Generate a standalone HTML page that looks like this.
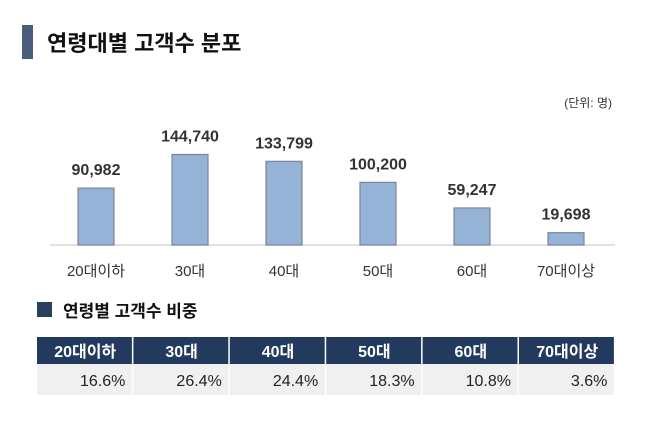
<!DOCTYPE html>
<html><head><meta charset="utf-8"><style>
body{margin:0;width:647px;height:425px;background:#fff;overflow:hidden;font-family:"Liberation Sans","Noto Sans CJK KR",sans-serif;}
</style></head><body>
<svg width="647" height="425" xmlns="http://www.w3.org/2000/svg" style="position:absolute;left:0;top:0" font-family="Liberation Sans, Noto Sans CJK KR, sans-serif">
<rect x="22" y="25" width="11" height="34" fill="#4a5d7a"/>
<text x="47" y="51" font-size="22" font-weight="bold" fill="#111">연령대별 고객수 분포</text>
<text x="612" y="107" font-size="12" fill="#333" text-anchor="end">(단위: 명)</text>
<line x1="50" y1="245" x2="615" y2="245" stroke="#d9d9d9" stroke-width="1.5"/>
<g id="bars"></g>
<rect x="37" y="302" width="15" height="15" fill="#2b3f5e"/>
<text x="63" y="317" font-size="17" font-weight="bold" fill="#111">연령별 고객수 비중</text>
<g id="table"></g>
</svg>
<script>
const categories=["20대이하","30대","40대","50대","60대","70대이상"];
const values=[90982,144740,133799,100200,59247,19698];
const valueLabels=["90,982","144,740","133,799","100,200","59,247","19,698"];
const shares=["16.6%","26.4%","24.4%","18.3%","10.8%","3.6%"];
const NS="http://www.w3.org/2000/svg";
const base=245, scale=90.5/144740;
const xc=i=>96+i*94;
const y=v=>base-v*scale;
const g=document.getElementById('bars');
function mk(tag,attrs,parent){const e=document.createElementNS(NS,tag);for(const k in attrs)e.setAttribute(k,attrs[k]);parent.appendChild(e);return e;}
categories.forEach((c,i)=>{
  const r=mk('rect',{x:xc(i)-18,y:y(values[i]),width:36,height:base-y(values[i]),fill:'#95b3d7',stroke:'#7b8799','stroke-width':1.2},g);
  
  
  const t=mk('text',{x:xc(i),y:y(values[i])-13,'font-size':16,'font-weight':'bold',fill:'#333','text-anchor':'middle'},g);
  t.textContent=valueLabels[i];
  
  
  const l=mk('text',{x:xc(i),y:276,'font-size':15,fill:'#333','text-anchor':'middle'},g);
  l.textContent=c;
  
  
});
const tb=document.getElementById('table');
const tx=37,cw=96.4;
categories.forEach((c,i)=>{
  const x=tx+i*cw;
  const h=mk('rect',{x:x,y:337,width:cw-1.5,height:27,fill:'#223a5e'},tb);
  
  
  const ht=mk('text',{x:x+cw/2,y:357,'font-size':16,'font-weight':'bold',fill:'#fff','text-anchor':'middle'},tb);
  ht.textContent=c;
  
  
  const d=mk('rect',{x:x,y:364,width:cw-1.5,height:31,fill:'#f0f0f0'},tb);
  
  
  const dt=mk('text',{x:x+cw-8,y:386,'font-size':16,fill:'#222','text-anchor':'end'},tb);
  dt.textContent=shares[i];
  
  
});
</script>
</body></html>
